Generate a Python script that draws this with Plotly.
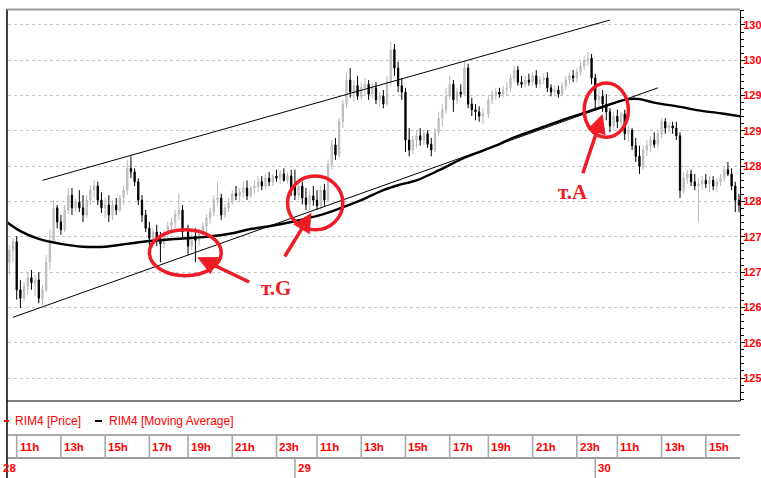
import plotly.graph_objects as go

# ---------------------------------------------------------------------------
# RIM4 (RTS index futures), 10-minute candles, 28-30 of the month
# ---------------------------------------------------------------------------
DAY_LABELS = ["28", "29", "30"]

# trading session: 10:00-18:45 and 19:00-23:50 -> 815 trading minutes a day
DAY_LEN = 815


def tpos(day, hhmm):
    """Position on the x axis in trading minutes since 10:00 of day 0."""
    h, m = (int(v) for v in hhmm.split(":"))
    mins = (h - 10) * 60 + m
    if h >= 19:
        mins -= 15
    return day * DAY_LEN + mins


def slots(day, start, end):
    """10-minute candle start times of one day (no candle in the 18:45 break)."""
    h, m = (int(v) for v in start.split(":"))
    t = h * 60 + m
    h2, m2 = (int(v) for v in end.split(":"))
    out = []
    while t <= h2 * 60 + m2:
        if not (18 * 60 + 40 <= t < 19 * 60):
            out.append((day, f"{t // 60:02d}:{t % 60:02d}"))
        t += 10
    return out


candle_times = slots(0, "10:40", "23:40") + slots(1, "10:00", "23:40") + slots(2, "10:00", "16:30")

# ---- day 28 ---------------------------------------------------------------
open_28 = [127140, 127310, 127430, 126750, 126630, 126800, 126920, 126850, 126890, 126630,
           126750, 127140, 127450, 127910, 127710, 127600, 127880, 128090, 127910, 127990,
           127910, 127810, 128020, 128160, 128220, 128020, 127910, 127950, 127810, 127950,
           127880, 128050, 128160, 128470, 128420, 128280, 128020, 127810, 127620, 127480,
           127570, 127450, 127400, 127540, 127650, 127710, 127820, 127880, 127570, 127370,
           127510, 127450, 127570, 127650, 127770, 127850, 128020, 128050, 127810, 127910,
           127990, 128110, 128080, 128130, 128190, 128080, 128190, 128220, 128280, 128220,
           128330, 128280, 128360, 128330, 128390, 128300, 128360]
high_28 = [127380, 127480, 127510, 126890, 126860, 127000, 127030, 126960, 127000, 126820,
           127240, 127600, 128020, 127950, 127810, 127950, 128190, 128190, 128050, 128160,
           128090, 128080, 128230, 128300, 128280, 128130, 128050, 128090, 128020, 128050,
           128090, 128230, 128590, 128640, 128470, 128330, 128090, 127880, 127710, 127620,
           127670, 127570, 127600, 127710, 127770, 127880, 128120, 127950, 127670, 127600,
           127620, 127620, 127710, 127820, 127910, 128090, 128280, 128110, 127950, 128050,
           128160, 128220, 128190, 128280, 128300, 128220, 128300, 128360, 128360, 128390,
           128420, 128390, 128450, 128450, 128470, 128420, 128450]
low_28 = [126960, 127140, 126610, 126490, 126580, 126680, 126750, 126660, 126560, 126530,
          126720, 127030, 127400, 127620, 127530, 127570, 127820, 127810, 127850, 127850,
          127710, 127770, 127950, 128050, 127950, 127840, 127770, 127710, 127740, 127810,
          127850, 127950, 128090, 128330, 128220, 127950, 127710, 127570, 127380, 127340,
          127370, 127140, 127340, 127480, 127540, 127620, 127740, 127480, 127240, 127310,
          127140, 127370, 127480, 127570, 127680, 127790, 127940, 127740, 127770, 127850,
          127950, 128020, 127990, 128050, 128020, 128050, 128110, 128130, 128160, 128190,
          128220, 128220, 128280, 128250, 128280, 128250, 128080]
close_28 = [127310, 127430, 126750, 126630, 126800, 126920, 126850, 126890, 126630, 126750,
            127140, 127450, 127910, 127710, 127600, 127880, 128090, 127910, 127990, 127910,
            127810, 128020, 128160, 128220, 128020, 127910, 127950, 127810, 127950, 127880,
            128050, 128160, 128470, 128420, 128280, 128020, 127810, 127620, 127480, 127570,
            127450, 127400, 127540, 127650, 127710, 127820, 127880, 127570, 127370, 127510,
            127450, 127570, 127650, 127770, 127850, 128020, 128050, 127810, 127910, 127990,
            128110, 128080, 128130, 128190, 128080, 128190, 128220, 128280, 128220, 128330,
            128280, 128360, 128330, 128390, 128300, 128360, 128160]

# ---- day 29 ---------------------------------------------------------------
open_29 = [128220, 128090, 128220, 128050, 127960, 128080, 128020, 127940, 128160, 128020,
           128520, 128800, 128660, 129130, 129380, 129720, 129550, 129640, 129490, 129610,
           129660, 129520, 129610, 129440, 129490, 129380, 129690, 130150, 129890, 129640,
           129550, 128870, 128730, 128870, 128930, 128870, 128960, 128810, 128730, 128980,
           129180, 129300, 129490, 129660, 129440, 129550, 129520, 129890, 129380, 129300,
           129270, 129210, 129240, 129440, 129520, 129550, 129520, 129580, 129610, 129750,
           129860, 129690, 129660, 129720, 129690, 129780, 129660, 129720, 129750, 129610,
           129550, 129580, 129520, 129640, 129720, 129780, 129750, 129830, 129920, 130000,
           130030]
high_29 = [128450, 128300, 128280, 128190, 128160, 128220, 128160, 128220, 128250, 128590,
           128870, 128900, 129180, 129440, 129830, 129890, 129720, 129780, 129690, 129750,
           129720, 129660, 129690, 129550, 129580, 129780, 130260, 130230, 129980, 129750,
           129610, 129040, 128930, 129010, 129040, 129010, 129010, 128900, 129040, 129270,
           129380, 129610, 129780, 129720, 129610, 129660, 129980, 129950, 129470, 129380,
           129350, 129320, 129490, 129580, 129610, 129610, 129640, 129690, 129810, 129920,
           129920, 129780, 129780, 129810, 129830, 129860, 129780, 129810, 129830, 129660,
           129640, 129640, 129690, 129780, 129830, 129860, 129890, 129980, 130060, 130120,
           130090]
low_29 = [128020, 128020, 127960, 127880, 127850, 127940, 127880, 127880, 127940, 127990,
          128450, 128590, 128620, 129040, 129320, 129470, 129410, 129440, 129440, 129490,
          129440, 129470, 129380, 129350, 129320, 129350, 129640, 129780, 129550, 129440,
          128700, 128640, 128670, 128760, 128790, 128800, 128760, 128640, 128700, 128930,
          129070, 129240, 129440, 129270, 129380, 129470, 129490, 129320, 129210, 129150,
          129130, 129100, 129180, 129380, 129440, 129470, 129470, 129490, 129550, 129690,
          129640, 129610, 129610, 129640, 129640, 129610, 129610, 129660, 129550, 129490,
          129490, 129470, 129490, 129580, 129660, 129690, 129690, 129780, 129860, 129920,
          129660]
close_29 = [128090, 128220, 128050, 127960, 128080, 128020, 127940, 128160, 128020, 128520,
            128800, 128660, 129130, 129380, 129720, 129550, 129640, 129490, 129610, 129660,
            129520, 129610, 129440, 129490, 129380, 129690, 130150, 129890, 129640, 129550,
            128870, 128730, 128870, 128930, 128870, 128960, 128810, 128730, 128980, 129180,
            129300, 129490, 129660, 129440, 129550, 129520, 129890, 129380, 129300, 129270,
            129210, 129240, 129440, 129520, 129550, 129520, 129580, 129610, 129750, 129860,
            129690, 129660, 129720, 129690, 129780, 129660, 129720, 129750, 129610, 129550,
            129580, 129520, 129640, 129720, 129780, 129750, 129830, 129920, 130000, 130030,
            129750]

# ---- day 30 ---------------------------------------------------------------
open_30 = [129750, 129440, 129490, 129380, 129270, 129070, 129210, 129130, 129240, 128960,
           129010, 128790, 128640, 128500, 128730, 128790, 128870, 128810, 128960, 129130,
           129040, 129070, 129040, 128930, 128160, 128330, 128390, 128280, 128220, 128250,
           128300, 128250, 128300, 128220, 128280, 128330, 128450, 128390, 128220, 128020]
high_30 = [129810, 129610, 129580, 129520, 129320, 129270, 129300, 129270, 129300, 129070,
           129040, 128900, 128790, 128790, 128870, 128930, 128980, 129010, 129180, 129180,
           129130, 129130, 129130, 128980, 128420, 128450, 128450, 128390, 128330, 128360,
           128390, 128360, 128360, 128330, 128390, 128500, 128560, 128470, 128280, 128110]
low_30 = [129320, 129320, 129270, 129150, 128980, 129010, 129040, 129070, 128870, 128840,
          128730, 128560, 128390, 128450, 128640, 128700, 128760, 128760, 128900, 128960,
          128980, 128960, 128870, 128050, 128110, 128250, 128220, 128160, 127710, 128160,
          128190, 128130, 128160, 128130, 128220, 128280, 128360, 128160, 127850, 127850]
close_30 = [129440, 129490, 129380, 129270, 129070, 129210, 129130, 129240, 128960, 129010,
            128790, 128640, 128500, 128730, 128790, 128870, 128810, 128960, 129130, 129040,
            129070, 129040, 128930, 128160, 128330, 128390, 128280, 128220, 128250, 128300,
            128250, 128300, 128220, 128280, 128330, 128450, 128390, 128220, 128020, 127950]

# ---- moving average ---------------------------------------------------------
ma_day = [0, 0, 0, 0, 0, 0, 0, 0, 0, 0, 0, 0, 0, 0,
          1, 1, 1, 1, 1, 1, 1, 1, 1, 1, 1, 1, 1,
          2, 2, 2, 2, 2, 2, 2, 2, 2, 2]
ma_time = ["10:30", "11:10", "12:00", "13:00", "14:00", "15:00", "16:00", "17:00", "18:10",
           "19:50", "21:00", "21:50", "22:40", "23:40",
           "11:10", "12:00", "13:00", "14:00", "14:40", "15:30", "16:30", "17:40", "19:20",
           "20:10", "21:20", "22:30", "23:40",
           "10:20", "11:00", "11:30", "12:00", "12:40", "13:50", "14:40", "15:40", "16:30", "16:40"]
ma_value = [127720, 127580, 127470, 127400, 127360, 127360, 127400, 127440, 127470,
            127500, 127550, 127610, 127650, 127710,
            127810, 127900, 128020, 128160, 128230, 128300, 128440, 128620, 128790,
            128910, 129040, 129170, 129290,
            129340, 129410, 129450, 129450, 129400, 129340, 129290, 129250, 129210, 129200]

# ---- channel lines (day, time, price) --------------------------------------
channel_upper = [(0, "12:10", 128300), (2, "10:40", 130570)]
channel_lower = [(0, "10:50", 126360), (2, "12:50", 129610)]

# ---- marked zones: (day, t0, day, t1, price0, price1) ----------------------
zones = [(0, "17:00", 0, "20:30", 126950, 127600),
         (0, "23:30", 1, "12:10", 127600, 128360),
         (1, "23:20", 2, "11:30", 128910, 129680)]

# ---- pointers: head (day, time, price) <- tail (day, time, price) ---------
pointers = [((0, "19:25", 127210), (0, "21:50", 126850)),
            ((1, "10:45", 127840), (0, "23:20", 127200)),
            ((2, "10:20", 129240), (1, "23:15", 128380))]
point_labels = [((0, "23:00", 126780), "т.G"), ((1, "22:50", 128130), "т.A")]

hour_labels = ["11", "13", "15", "17", "19", "21", "23"]
hour_marks = [(0, h) for h in hour_labels] + [(1, h) for h in hour_labels] + \
             [(2, h) for h in ["11", "13", "15"]]

# price scale: one label every 500 points, shown in thousands
price_ticks = list(range(125500, 130501, 500))
price_tick_text = [str(v // 1000) for v in price_ticks]

# ---------------------------------------------------------------------------
RED = "#ff0000"
MARK_RED = "#ee1c24"
SANS = "Liberation Sans, Arial, sans-serif"
SERIF = "Liberation Serif, Times New Roman, DejaVu Serif, serif"

W, H = 761, 478
M = dict(l=8, r=21, t=10, b=77)
PW = W - M["l"] - M["r"]
PH = H - M["t"] - M["b"]
X_RANGE = [36.4, 2022.8]
Y_RANGE = [125175, 130712]


def px(xpix):
    return (xpix - M["l"]) / PW


def py(ypix):
    return (H - M["b"] - ypix) / PH


def xp(pos):
    return (pos - X_RANGE[0]) / (X_RANGE[1] - X_RANGE[0])


cx = [tpos(d, t) for d, t in candle_times]
fig = go.Figure()
fig.add_trace(go.Candlestick(
    x=cx,
    open=open_28 + open_29 + open_30,
    high=high_28 + high_29 + high_30,
    low=low_28 + low_29 + low_30,
    close=close_28 + close_29 + close_30,
    increasing=dict(line=dict(color="#b9b9b9", width=1), fillcolor="#d4d4d4"),
    decreasing=dict(line=dict(color="#000000", width=1), fillcolor="#000000"),
    whiskerwidth=0,
    showlegend=False,
    hoverinfo="skip",
))

fig.add_trace(go.Scatter(
    x=[tpos(d, t) for d, t in zip(ma_day, ma_time)], y=ma_value,
    mode="lines", line=dict(color="#000000", width=2.4, shape="spline", smoothing=0.8),
    showlegend=False, hoverinfo="skip",
))

for line in (channel_upper, channel_lower):
    fig.add_trace(go.Scatter(
        x=[tpos(d, t) for d, t, _ in line], y=[p for _, _, p in line],
        mode="lines", line=dict(color="#000000", width=1),
        showlegend=False, hoverinfo="skip",
    ))

shapes = []
for d0, t0, d1, t1, p0, p1 in zones:
    shapes.append(dict(type="circle", xref="x", yref="y",
                       x0=tpos(d0, t0), x1=tpos(d1, t1), y0=p0, y1=p1,
                       line=dict(color=MARK_RED, width=3.5)))

annotations = []
for (hd, ht, hp), (td, tt, tp) in pointers:
    annotations.append(dict(x=tpos(hd, ht), y=hp, ax=tpos(td, tt), ay=tp,
                            xref="x", yref="y", axref="x", ayref="y", text="",
                            showarrow=True, arrowhead=2, arrowsize=1.1, arrowwidth=3.5,
                            arrowcolor=MARK_RED, standoff=0))
for (d, t, p), txt in point_labels:
    annotations.append(dict(x=tpos(d, t), y=p, xref="x", yref="y", text=txt,
                            showarrow=False, font=dict(family=SERIF, size=21, color=MARK_RED,
                                                       weight="bold")))

# frame of the price panel and of the time scale below it
frame_col = "#000000"
shapes += [
    dict(type="line", xref="paper", yref="paper", x0=px(7), x1=px(7), y0=py(9), y1=py(478),
         line=dict(color=frame_col, width=1.5)),
    dict(type="line", xref="paper", yref="paper", x0=px(7), x1=px(740), y0=py(9.5), y1=py(9.5),
         line=dict(color="#9a9a9a", width=2)),
    dict(type="line", xref="paper", yref="paper", x0=px(7), x1=px(740), y0=py(401), y1=py(401),
         line=dict(color=frame_col, width=1.2)),
    dict(type="line", xref="paper", yref="paper", x0=px(7), x1=px(740), y0=py(435), y1=py(435),
         line=dict(color="#555555", width=1)),
    dict(type="line", xref="paper", yref="paper", x0=px(7), x1=px(740), y0=py(458), y1=py(458),
         line=dict(color="#333333", width=1)),
]

# hour scale
for d, h in hour_marks:
    xh = xp(tpos(d, f"{h}:00"))
    shapes.append(dict(type="line", xref="paper", yref="paper", x0=xh, x1=xh,
                       y0=py(435), y1=py(458), line=dict(color="#a8a8a8", width=1.6)))
    annotations.append(dict(x=xh, y=py(446.5), xref="paper", yref="paper", text=f"{h}h",
                            xanchor="left", yanchor="middle", xshift=1, showarrow=False,
                            font=dict(family=SANS, size=11.5, color=RED, weight="bold")))

# day scale; the first day starts before the visible window, so its label
# is kept at the left edge
for d, lab in enumerate(DAY_LABELS):
    xd = xp(tpos(d, "10:00"))
    shapes.append(dict(type="line", xref="paper", yref="paper", x0=xd, x1=xd,
                       y0=py(458), y1=py(478), line=dict(color="#a8a8a8", width=1.6)))
    annotations.append(dict(x=max(xd, px(0)), y=py(468.5), xref="paper", yref="paper",
                            text=lab, xanchor="left", yanchor="middle", xshift=1,
                            showarrow=False,
                            font=dict(family=SANS, size=11.5, color=RED, weight="bold")))

# legend row
shapes += [
    dict(type="line", xref="paper", yref="paper", x0=px(4), x1=px(9), y0=py(421), y1=py(421),
         line=dict(color=RED, width=2)),
    dict(type="line", xref="paper", yref="paper", x0=px(95), x1=px(102), y0=py(421), y1=py(421),
         line=dict(color="#000000", width=2)),
]
annotations += [
    dict(x=px(13), y=py(421), xref="paper", yref="paper", text="RIM4 [Price]",
         xanchor="left", yanchor="middle", showarrow=False,
         font=dict(family=SANS, size=12, color=RED)),
    dict(x=px(107), y=py(421), xref="paper", yref="paper", text="RIM4 [Moving Average]",
         xanchor="left", yanchor="middle", showarrow=False,
         font=dict(family=SANS, size=12, color=RED)),
]

fig.update_layout(
    width=W, height=H, margin=M,
    paper_bgcolor="#ffffff", plot_bgcolor="#ffffff",
    boxgap=0.5,
    shapes=shapes, annotations=annotations,
    xaxis=dict(range=X_RANGE, showgrid=False, zeroline=False, showticklabels=False,
               ticks="", showline=False, rangeslider=dict(visible=False), fixedrange=True,
               automargin=False),
    yaxis=dict(range=Y_RANGE, side="right", tickmode="array", tickvals=price_ticks,
               ticktext=price_tick_text,
               showgrid=True, gridcolor="#c4c4c4", griddash="dot", gridwidth=1,
               zeroline=False, showline=True, linecolor="#000000", linewidth=1,
               ticks="outside", ticklen=4, tickcolor="#000000", tickwidth=1,
               ticklabelstandoff=-4, automargin=False,
               minor=dict(tickmode="linear", dtick=100, tick0=125500, ticks="outside",
                          ticklen=3, tickcolor="#000000", showgrid=False),
               tickfont=dict(family=SANS, size=11, color=RED, weight="bold"),
               fixedrange=True),
    showlegend=False,
)

fig.write_html("out.html")
